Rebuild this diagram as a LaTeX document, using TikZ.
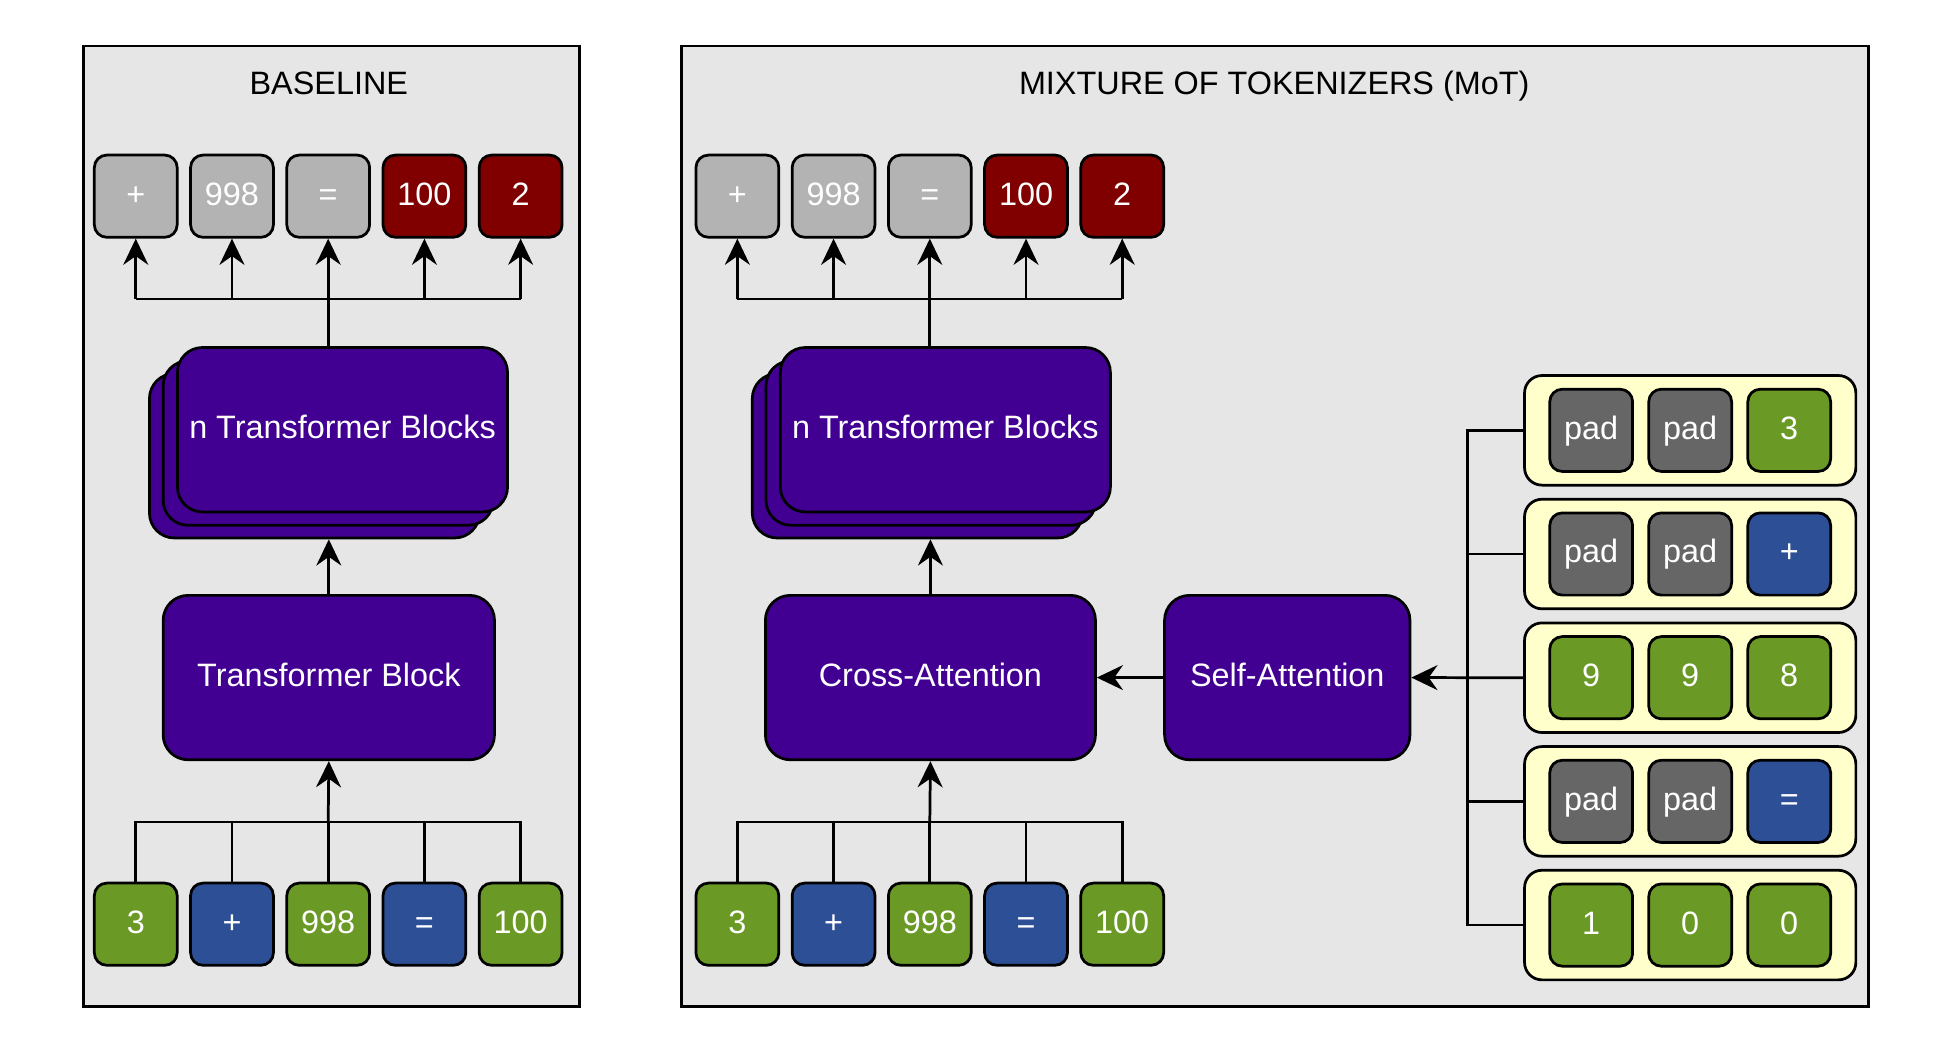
\documentclass[tikz,border=0pt]{standalone}
\usepackage{fontspec}
\setmainfont{Liberation Sans}
\usetikzlibrary{arrows.meta}
\definecolor{panelgray}{HTML}{E6E6E6}
\definecolor{tokgray}{HTML}{B3B3B3}
\definecolor{tokdark}{HTML}{666666}
\definecolor{tokred}{HTML}{800000}
\definecolor{tokgreen}{HTML}{6A9A25}
\definecolor{tokblue}{HTML}{2D4F96}
\definecolor{blkpurple}{HTML}{420092}
\definecolor{grpyellow}{HTML}{FFFFCC}

\begin{document}
\begin{tikzpicture}[x=0.5pt,y=-0.5pt,line width=1.1pt,
    font=\fontsize{13}{15}\selectfont,
    tok/.style={draw,rounded corners=5pt,minimum width=33.25pt,minimum height=33pt,
        inner sep=0pt,text=white,text height=0.72em,text depth=0pt},
    blk/.style={draw,rounded corners=10pt,fill=blkpurple,text=white,inner sep=0pt,
        minimum height=66pt,text height=0.72em,text depth=0pt},
    grp/.style={draw,rounded corners=7pt,fill=grpyellow,minimum width=133pt,minimum height=44pt},
    arr/.style={-{Stealth[length=10.5pt,width=10pt,inset=3.5pt]}}]
    \useasboundingbox (0,0) rectangle (1568,846);

    % panels
    \draw[fill=panelgray] (67,37) rectangle (465,808);
    \draw[fill=panelgray] (547,37) rectangle (1500,808);
    \node[anchor=base] (btitle) at (264,75.5) {BASELINE};
    \node[anchor=base] (mtitle) at (1023,75.5) {MIXTURE OF TOKENIZERS (MoT)};

    % baseline
    \foreach \i/\t/\c in {1/+/tokgray,2/998/tokgray,3/=/tokgray,4/100/tokred,5/2/tokred} {
        \node[tok,fill=\c] (bout\i) at ({109+77.25*(\i-1)},157.5) {\t};
    }
    \foreach \i/\t/\c in {1/3/tokgreen,2/+/tokblue,3/998/tokgreen,4/=/tokblue,5/100/tokgreen} {
        \node[tok,fill=\c] (bin\i) at ({109+77.25*(\i-1)},742) {\t};
    }
    \foreach \k/\d in {3/22.5,2/11.5} {
        \node[blk,minimum width=132.5pt] (bstk\k) at (275-\d,345+0.93*\d) {};
    }
    \node[blk,minimum width=132.5pt] (bstk1) at (275,345) {n Transformer Blocks};
    \node[blk,minimum width=133pt] (tb) at (264,544) {Transformer Block};

    \coordinate (btop) at (263.5,240);
    \coordinate (bbot) at (263.5,660);
    \draw (bout1 |- btop) -- (bout5 |- btop);
    \foreach \i in {1,...,5} \draw[arr] (bout\i |- btop) -- (bout\i.south);
    \draw (bstk1.north -| btop) -- (btop);
    \draw[arr] (tb.north) -- (tb.north |- bstk3.south);
    \draw (bin1.north) |- (bin5 |- bbot) -- (bin5.north);
    \foreach \i in {2,...,4} \draw (bin\i.north) -- (bin\i |- bbot);
    \draw[arr] (bbot) -- (tb.south);

    % mixture of tokenizers
    \foreach \i/\t/\c in {1/+/tokgray,2/998/tokgray,3/=/tokgray,4/100/tokred,5/2/tokred} {
        \node[tok,fill=\c] (mout\i) at ({592+77.25*(\i-1)},157.5) {\t};
    }
    \foreach \i/\t/\c in {1/3/tokgreen,2/+/tokblue,3/998/tokgreen,4/=/tokblue,5/100/tokgreen} {
        \node[tok,fill=\c] (min\i) at ({592+77.25*(\i-1)},742) {\t};
    }
    \foreach \k/\d in {3/22.5,2/11.5} {
        \node[blk,minimum width=132.5pt] (mstk\k) at (759-\d,345+0.93*\d) {};
    }
    \node[blk,minimum width=132.5pt] (mstk1) at (759,345) {n Transformer Blocks};
    \node[blk,minimum width=132.5pt] (ca) at (747,544) {Cross-Attention};
    \node[blk,minimum width=98.5pt] (sa) at (1033.5,544) {Self-Attention};

    \coordinate (mtop) at (746.5,240);
    \coordinate (mbot) at (746.5,660);
    \draw (mout1 |- mtop) -- (mout5 |- mtop);
    \foreach \i in {1,...,5} \draw[arr] (mout\i |- mtop) -- (mout\i.south);
    \draw (mstk1.north -| mtop) -- (mtop);
    \draw[arr] (ca.north) -- (ca.north |- mstk3.south);
    \draw (min1.north) |- (min5 |- mbot) -- (min5.north);
    \foreach \i in {2,...,4} \draw (min\i.north) -- (min\i |- mbot);
    \draw[arr] (mbot) -- (ca.south);
    \draw[arr] (sa.west) -- (ca.east);

    % tokenizer groups
    \foreach \r/\a/\b/\c/\ka/\kb/\kc in {1/pad/pad/3/tokdark/tokdark/tokgreen,
        2/pad/pad/+/tokdark/tokdark/tokblue,3/9/9/8/tokgreen/tokgreen/tokgreen,
        4/pad/pad/=/tokdark/tokdark/tokblue,5/1/0/0/tokgreen/tokgreen/tokgreen} {
        \node[grp] (grp\r) at (1357,{345.5+99.3*(\r-1)}) {};
        \node[tok,fill=\ka] (g\r a) at (1277.5,{345.5+99.3*(\r-1)}) {\a};
        \node[tok,fill=\kb] (g\r b) at (1357,{345.5+99.3*(\r-1)}) {\b};
        \node[tok,fill=\kc] (g\r c) at (1436.5,{345.5+99.3*(\r-1)}) {\c};
    }
    \coordinate (jn) at (1178,544);
    \draw (grp1.west) -| (jn |- grp5.west) -- (grp5.west);
    \draw (grp2.west) -- (grp2.west -| jn);
    \draw (grp4.west) -- (grp4.west -| jn);
    \draw[arr] (grp3.west) -- (sa.east);
\end{tikzpicture}
\end{document}
